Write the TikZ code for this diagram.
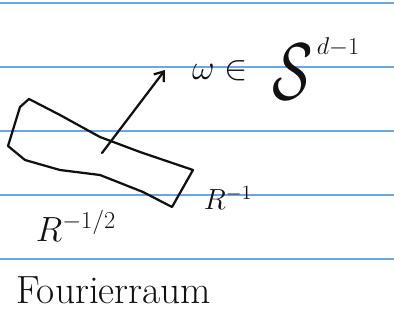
\documentclass[tikz,border=0pt]{standalone}
\usepackage{amssymb}
\usepackage{graphicx}
\usepackage{tikz}
\usetikzlibrary{arrows.meta,positioning,calc}
\definecolor{RuleBlue}{HTML}{6AA6E8}
\definecolor{InkBlack}{HTML}{111111}

\begin{document}
\begin{tikzpicture}[x=0.025cm,y=-0.025cm,
    ink/.style={draw=InkBlack,line width=1.6pt,line join=round,line cap=round},
    lbl/.style={text=InkBlack,inner sep=0pt}]
    \useasboundingbox (0,0) rectangle (394,320);
    % ruled paper
    \foreach \ly in {3,67,131,195,259}{
      \draw[RuleBlue,line width=0.9pt](0,\ly)--(394,\ly);
    }
    % slab
    \coordinate (slabA) at (29,99);
    \coordinate (slabB) at (193,170);
    \coordinate (slabC) at (172,207);
    \coordinate (slabD) at (8,146);
    \draw[ink](slabA)--(60,115)--(100,137)--(140,152)--(slabB)
      --(slabC)--(143,192)--(100,175)--(60,170)--(25,160)--(slabD)--(20,107)--cycle;
    % direction
    \node[lbl,font=\fontsize{26}{30}\selectfont] (omega) at (220,71) {$\omega\in$};
    \node[lbl,font=\fontsize{24}{28}\selectfont,anchor=south west] (sphere) at (272,100)
      {${\scalebox{1.7}[2.3]{$\mathcal{S}$}}^{\,d-1}$};
    \coordinate (base) at (102,153);
    \coordinate (tip) at (165,70);
    \draw[ink,-{Straight Barb[length=6pt,width=9pt]}](base)--(tip);
    % scales
    \node[lbl,font=\fontsize{25}{29}\selectfont] (width) at (76,226) {$R^{-1/2}$};
    \node[lbl,font=\fontsize{20}{24}\selectfont] (thick) at (228,198) {$R^{-1}$};
    \node[lbl,font=\fontsize{28}{32}\selectfont,anchor=west] (space) at (16,290) {Fourierraum};
  \end{tikzpicture}
\end{document}
